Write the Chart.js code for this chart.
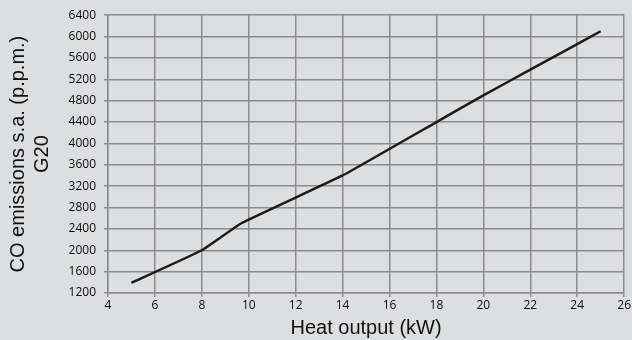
<!DOCTYPE html>
<html>
<head>
<meta charset="utf-8">
<script src="https://cdn.jsdelivr.net/npm/chart.js@4"></script>
<style>
  html, body { margin: 0; padding: 0; background: #dddee0; }
  #wrap { width: 632px; height: 340px; }
</style>
</head>
<body>
<div id="wrap"><canvas id="c" width="632" height="340"></canvas></div>
<script>
// Heat output (kW) vs CO emissions, G20 gas
const heatOutput = [5, 8, 9.7, 14, 18, 20, 22, 24, 25];
const coEmissions = [1390, 2000, 2510, 3400, 4400, 4900, 5380, 5860, 6100];
const xTicks = [4, 6, 8, 10, 12, 14, 16, 18, 20, 22, 24, 26];
const yTicks = [1200, 1600, 2000, 2400, 2800, 3200, 3600, 4000, 4400, 4800, 5200, 5600, 6000, 6400];

const points = heatOutput.map((x, i) => ({ x: x, y: coEmissions[i] }));
const gridColor = '#8c8c8e';
const tickFont = { family: 'Open Sans', size: 12 };
const titleFont = { family: 'Liberation Sans', size: 20 };

new Chart(document.getElementById('c'), {
  type: 'line',
  data: {
    datasets: [{
      data: points,
      borderColor: '#1c1c1c',
      borderWidth: 2.5,
      pointRadius: 0,
      tension: 0.1,
      fill: false
    }]
  },
  options: {
    responsive: false,
    animation: false,
    layout: { padding: { left: 0, right: 7, top: 10, bottom: 0 } },
    plugins: { legend: { display: false }, tooltip: { enabled: false } },
    scales: {
      x: {
        type: 'linear',
        min: xTicks[0],
        max: xTicks[xTicks.length - 1],
        afterBuildTicks: (s) => { s.ticks = xTicks.map(v => ({ value: v })); },
        afterFit: (s) => { s.height = 47; },
        ticks: { color: '#0a0a0a', font: tickFont, padding: 1, maxRotation: 0, callback: (v) => String(v) },
        grid: { color: gridColor, lineWidth: 1.5, tickLength: 4 },
        border: { color: gridColor, width: 1.5 },
        title: { display: true, text: 'Heat output (kW)', color: '#111', font: titleFont, padding: { top: 0, bottom: 0 } }
      },
      y: {
        min: yTicks[0],
        max: yTicks[yTicks.length - 1],
        afterBuildTicks: (s) => { s.ticks = yTicks.map(v => ({ value: v })); },
        afterFit: (s) => { s.width = 108; },
        ticks: { color: '#0a0a0a', font: tickFont, padding: 8, callback: (v) => String(v) },
        grid: { color: gridColor, lineWidth: 1.5, tickLength: 4 },
        border: { color: gridColor, width: 1.5 },
        title: { display: true, text: ['CO emissions s.a. (p.p.m.)', 'G20'], color: '#111', font: titleFont, padding: { top: 6, bottom: 6 } }
      }
    }
  }
});
</script>
</body>
</html>
